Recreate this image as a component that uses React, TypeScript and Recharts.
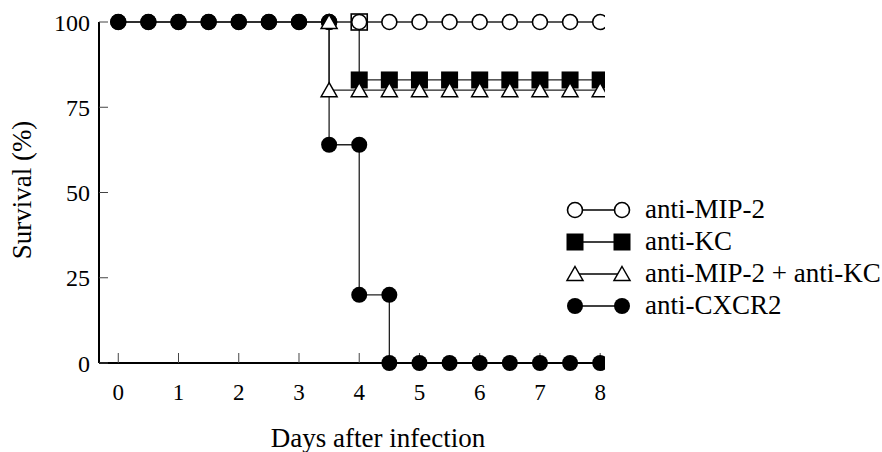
import { LineChart, Line, XAxis, YAxis } from 'recharts';

const mip2Days = [0, 0.5, 1, 1.5, 2, 2.5, 3, 3.5, 4, 4.5, 5, 5.5, 6, 6.5, 7, 7.5, 8];
const mip2Survival = [100, 100, 100, 100, 100, 100, 100, 100, 100, 100, 100, 100, 100, 100, 100, 100, 100];

const kcDays = [4, 4, 4.5, 5, 5.5, 6, 6.5, 7, 7.5, 8];
const kcSurvival = [100, 83, 83, 83, 83, 83, 83, 83, 83, 83];

const comboDays = [3.5, 3.5, 4, 4.5, 5, 5.5, 6, 6.5, 7, 7.5, 8];
const comboSurvival = [100, 80, 80, 80, 80, 80, 80, 80, 80, 80, 80];

const cxcr2Days = [0, 0.5, 1, 1.5, 2, 2.5, 3, 3.5, 3.5, 4, 4, 4.5, 4.5, 5, 5.5, 6, 6.5, 7, 7.5, 8];
const cxcr2Survival = [100, 100, 100, 100, 100, 100, 100, 100, 64, 64, 20, 20, 0, 0, 0, 0, 0, 0, 0, 0];

const dayTicks = [0, 1, 2, 3, 4, 5, 6, 7, 8];
const survivalTicks = [0, 25, 50, 75, 100];

const zip = (days: number[], vals: number[]) => days.map((d, i) => ({ day: d, survival: vals[i] }));

const FONT = '"Liberation Serif", "DejaVu Serif", serif';

type Kind = 'openCircle' | 'square' | 'triangle' | 'dot';

function Marker({ kind, cx, cy, hollow }: { kind: Kind; cx: number; cy: number; hollow?: boolean }) {
  if (kind === 'openCircle') {
    return <circle cx={cx} cy={cy} r={7.5} fill="#fff" stroke="#000" strokeWidth={1.6} />;
  }
  if (kind === 'dot') {
    return <circle cx={cx} cy={cy} r={8} fill="#000" stroke="none" />;
  }
  if (kind === 'square') {
    return hollow ? (
      <rect x={cx - 8} y={cy - 8} width={16} height={16} fill="#fff" stroke="#000" strokeWidth={1.6} />
    ) : (
      <rect x={cx - 8.5} y={cy - 8.5} width={17} height={17} fill="#000" />
    );
  }
  return (
    <path
      d={`M${cx},${cy - 7.5} L${cx + 8},${cy + 6.5} L${cx - 8},${cy + 6.5} Z`}
      fill="#fff"
      stroke="#000"
      strokeWidth={1.5}
      strokeLinejoin="miter"
    />
  );
}

const series = [
  { key: 'kc', name: 'anti-KC', kind: 'square' as Kind, data: zip(kcDays, kcSurvival) },
  { key: 'mip2', name: 'anti-MIP-2', kind: 'openCircle' as Kind, data: zip(mip2Days, mip2Survival) },
  { key: 'cxcr2', name: 'anti-CXCR2', kind: 'dot' as Kind, data: zip(cxcr2Days, cxcr2Survival) },
  { key: 'combo', name: 'anti-MIP-2 + anti-KC', kind: 'triangle' as Kind, data: zip(comboDays, comboSurvival) },
];

const legendOrder = ['mip2', 'kc', 'combo', 'cxcr2'];

function LegendBox() {
  return (
    <svg width={322} height={130} style={{ position: 'absolute', left: 560, top: 193 }}>
      {legendOrder.map((k, i) => {
        const s = series.find((x) => x.key === k)!;
        const y = 17 + i * 32;
        return (
          <g key={k}>
            <line x1={15} y1={y} x2={62} y2={y} stroke="#000" strokeWidth={1.3} />
            <Marker kind={s.kind} cx={15} cy={y} />
            <Marker kind={s.kind} cx={62} cy={y} />
            <text x={85} y={y + 8} fontFamily={FONT} fontSize={27} fill="#000">
              {s.name}
            </text>
          </g>
        );
      })}
    </svg>
  );
}

export default function App() {
  return (
    <div style={{ position: 'absolute', left: 0, top: 0, width: 882, height: 452, background: '#fff' }}>
      <LineChart width={882} height={452} margin={{ top: 22, right: 277, bottom: 0, left: 0 }}>
        <XAxis
          type="number"
          dataKey="day"
          domain={[-0.32, 8.08]}
          allowDataOverflow
          ticks={dayTicks}
          interval={0}
          height={89}
          axisLine={{ stroke: '#000', strokeWidth: 2 }}
          tickLine={{ stroke: '#444', strokeWidth: 1 }}
          tickSize={-10}
          tickMargin={31}
          tick={{ fill: '#000', fontSize: 23, fontFamily: FONT }}
          label={{
            content: () => (
              <text x={378} y={447} textAnchor="middle" fontFamily={FONT} fontSize={27} fill="#000">
                Days after infection
              </text>
            ),
          }}
        />
        <YAxis
          type="number"
          domain={[0, 100]}
          ticks={survivalTicks}
          interval={0}
          width={99}
          axisLine={{ stroke: '#000', strokeWidth: 2 }}
          tickLine={{ stroke: '#444', strokeWidth: 1 }}
          tickSize={-9}
          tickMargin={18}
          tick={{ fill: '#000', fontSize: 24, fontFamily: FONT }}
          label={{
            content: () => (
              <text
                x={31}
                y={190}
                transform="rotate(-90 31 190)"
                textAnchor="middle"
                fontFamily={FONT}
                fontSize={27}
                fill="#000"
              >
                Survival (%)
              </text>
            ),
          }}
        />
        {series.map((s) => (
          <Line
            key={s.key}
            data={s.data}
            dataKey="survival"
            name={s.name}
            type="linear"
            stroke="#222"
            strokeWidth={1.3}
            isAnimationActive={false}
            dot={(p: any) => (
              <Marker
                key={`${s.key}-${p.index}`}
                kind={s.kind}
                cx={p.cx}
                cy={p.cy}
                hollow={s.kind === 'square' && p.payload.survival === 100}
              />
            )}
            activeDot={false}
          />
        ))}
      </LineChart>
      <LegendBox />
    </div>
  );
}
